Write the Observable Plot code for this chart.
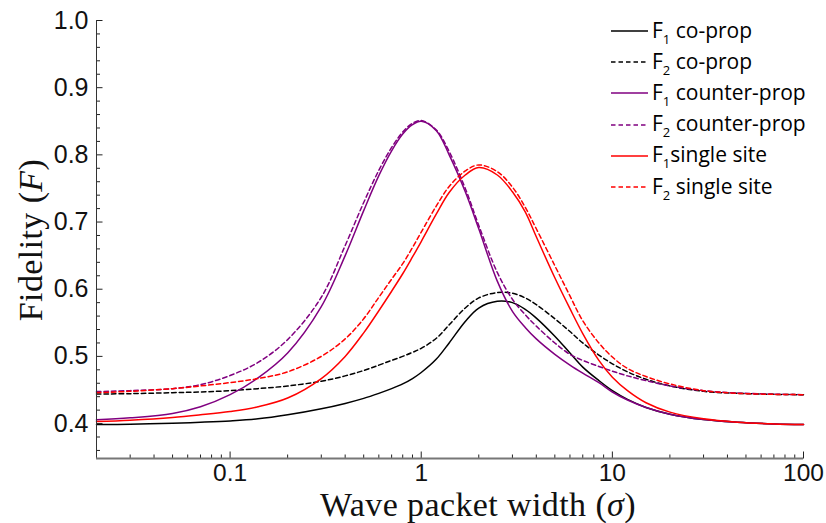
<!DOCTYPE html>
<html><head><meta charset="utf-8">
<script src="https://cdn.jsdelivr.net/npm/d3@7"></script>
<script src="https://cdn.jsdelivr.net/npm/@observablehq/plot@0.6"></script>
<style>
body{margin:0;background:#fff;}
#wrap{position:relative;width:826px;height:523px;overflow:hidden;}
#legend{position:absolute;left:611px;top:14px;font-family:"Open Sans",sans-serif;font-size:21px;color:#000;}
.row{display:flex;align-items:center;height:31.2px;}
.row svg{margin-right:4px;margin-top:3px;}
.row sub{font-size:13px;vertical-align:-6px;line-height:0;}
.atitle{position:absolute;font-family:"Liberation Serif",serif;font-size:34px;line-height:1;color:#111;white-space:nowrap;letter-spacing:0.4px;}
</style></head><body><div id="wrap"></div>
<script>
// Wave packet width (sigma) sample points
const widths = [0.02,0.03,0.05,0.07,0.1,0.14,0.2,0.3,0.4,0.5,0.6,0.7,0.8,0.9,1,1.2,1.4,1.7,2,2.5,3,3.5,4,5,6,7,8.5,10,12,15,20,30,45,70,100];
// F1 / F2 co-propagating
const coProp1 = [0.3985,0.399,0.4005,0.402,0.404,0.407,0.413,0.422,0.43,0.4375,0.445,0.452,0.459,0.467,0.476,0.496,0.52,0.552,0.572,0.582,0.58,0.57,0.557,0.53,0.505,0.484,0.464,0.449,0.436,0.424,0.414,0.406,0.402,0.3995,0.3985];
const coProp2 = [0.444,0.4445,0.446,0.447,0.449,0.452,0.456,0.463,0.471,0.479,0.487,0.494,0.5,0.506,0.512,0.527,0.547,0.572,0.587,0.595,0.594,0.587,0.577,0.556,0.537,0.52,0.502,0.489,0.477,0.466,0.456,0.448,0.445,0.4435,0.443];
// F1 / F2 counter-propagating
const counterProp1 = [0.4055,0.4085,0.415,0.425,0.443,0.468,0.505,0.574,0.65,0.717,0.769,0.806,0.831,0.845,0.85,0.836,0.8,0.745,0.69,0.612,0.567,0.543,0.526,0.503,0.487,0.475,0.461,0.447,0.435,0.424,0.414,0.406,0.402,0.3995,0.3985];
const counterProp2 = [0.4476,0.449,0.452,0.458,0.4715,0.491,0.525,0.588,0.665,0.729,0.777,0.811,0.834,0.847,0.851,0.837,0.805,0.75,0.695,0.625,0.585,0.562,0.545,0.52,0.503,0.494,0.485,0.478,0.471,0.464,0.456,0.449,0.4455,0.4438,0.443];
// F1 / F2 single site
const singleSite1 = [0.403,0.405,0.409,0.413,0.418,0.425,0.438,0.467,0.5,0.535,0.568,0.597,0.623,0.648,0.671,0.712,0.744,0.77,0.781,0.77,0.745,0.715,0.678,0.617,0.571,0.534,0.494,0.469,0.449,0.431,0.417,0.407,0.402,0.3995,0.3985];
const singleSite2 = [0.446,0.448,0.452,0.456,0.461,0.467,0.477,0.5,0.526,0.556,0.588,0.615,0.638,0.662,0.685,0.724,0.753,0.776,0.785,0.775,0.752,0.722,0.69,0.635,0.59,0.553,0.52,0.499,0.482,0.47,0.459,0.449,0.445,0.4435,0.443];

const xTicks = [0.1, 1, 10, 100];
const xTickLabels = ["0.1", "1", "10", "100"];
const yTicks = [0.4, 0.5, 0.6, 0.7, 0.8, 0.9, 1.0];
const yTickLabels = ["0.4", "0.5", "0.6", "0.7", "0.8", "0.9", "1.0"];

const seriesNames = ["F1 co-prop","F2 co-prop","F1 counter-prop","F2 counter-prop","F1 single site","F2 single site"];
const seriesValues = [coProp1, coProp2, counterProp1, counterProp2, singleSite1, singleSite2];
const seriesColors = ["#000000","#000000","#800080","#800080","#ff0000","#ff0000"];
const seriesDashed = [false,true,false,true,false,true];
const legendHTML = ["F<sub>1</sub> co-prop","F<sub>2</sub> co-prop","F<sub>1</sub> counter-prop","F<sub>2</sub> counter-prop","F<sub>1</sub>single site","F<sub>2</sub> single site"];

const xDomain = [0.02, 100];
const yDomain = [0.348, 1.0];

const W = 826, H = 523, mL = 96, mR = 23, mT = 20, mB = 65;
const innerW = W - mL - mR, innerH = H - mT - mB;

// minor ticks
const xMinor = [];
for (const dec of [0.01, 0.1, 1, 10]) for (let m = 2; m <= 9; m++) { const v = +(dec*m).toPrecision(3); if (v > xDomain[0] && v < xDomain[1]) xMinor.push(v); }
const yMinor = d3.range(0.36, 0.999, 0.02).map(v => +v.toFixed(2)).filter(v => !yTicks.some(t => Math.abs(t - v) < 1e-6));

// inward frame ticks: convert a pixel length into data units along each scale
const yPerPx = (yDomain[1] - yDomain[0]) / innerH;
const xLogPerPx = Math.log10(xDomain[1] / xDomain[0]) / innerW;
const xTickMark = (vals, len) => Plot.link(vals, {x1: d => d, x2: d => d, y1: yDomain[0], y2: yDomain[0] + len * yPerPx, stroke: "#222", strokeWidth: 1});
const yTickMark = (vals, len) => Plot.link(vals, {y1: d => d, y2: d => d, x1: xDomain[0], x2: xDomain[0] * Math.pow(10, len * xLogPerPx), stroke: "#222", strokeWidth: 1});

const lines = seriesNames.map((name, s) => Plot.line(
  widths.map((w, i) => ({w, f: seriesValues[s][i]})),
  {x: "w", y: "f", stroke: seriesColors[s], strokeWidth: 1.5,
   strokeDasharray: seriesDashed[s] ? "4.5,3" : null, curve: "catmull-rom"}
));

const chart = Plot.plot({
  width: W, height: H,
  marginLeft: mL, marginRight: mR, marginTop: mT, marginBottom: mB,
  x: {type: "log", domain: xDomain},
  y: {domain: yDomain},
  style: {fontFamily: "Liberation Sans, Arial, sans-serif", fontSize: "24px", color: "#111", background: "white"},
  marks: [
    Plot.axisX(xTicks, {tickSize: 0, tickPadding: 5, tickFormat: d => xTickLabels[xTicks.indexOf(d)], label: null, fontSize: 24.5}),
    Plot.axisY(yTicks, {tickSize: 0, tickPadding: 8, tickFormat: d => yTickLabels[yTicks.indexOf(d)], label: null, fontSize: 25}),
    ...lines,
    xTickMark(xTicks, 7),
    xTickMark(xMinor, 4),
    yTickMark(yTicks, 6),
    yTickMark(yMinor, 3.5),
    Plot.ruleX([xDomain[0]], {stroke: "#333", strokeWidth: 1}),
    Plot.ruleY([yDomain[0]], {stroke: "#777", strokeWidth: 1.8})
  ]
});

const wrap = document.getElementById("wrap");
wrap.appendChild(chart);

// legend
const legend = document.createElement("div");
legend.id = "legend";
seriesNames.forEach((name, s) => {
  const row = document.createElement("div");
  row.className = "row";
  row.innerHTML = `<svg width="37" height="4"><line x1="0" x2="37" y1="2" y2="2" stroke="${seriesColors[s]}" stroke-width="1.5" ${seriesDashed[s] ? 'stroke-dasharray="4.5,3"' : ''}/></svg><span>${legendHTML[s]}</span>`;
  legend.appendChild(row);
});
wrap.appendChild(legend);

// axis titles
const xt = document.createElement("div");
xt.className = "atitle";
xt.innerHTML = "Wave packet width (<i>σ</i>)";
xt.style.left = "478px"; xt.style.top = "505px"; xt.style.transform = "translate(-50%,-50%)";
wrap.appendChild(xt);
const yt = document.createElement("div");
yt.className = "atitle";
yt.innerHTML = "Fidelity (<i>F</i>)";
yt.style.left = "31px"; yt.style.top = "240px"; yt.style.transform = "translate(-50%,-50%) rotate(-90deg)";
wrap.appendChild(yt);
</script></body></html>
